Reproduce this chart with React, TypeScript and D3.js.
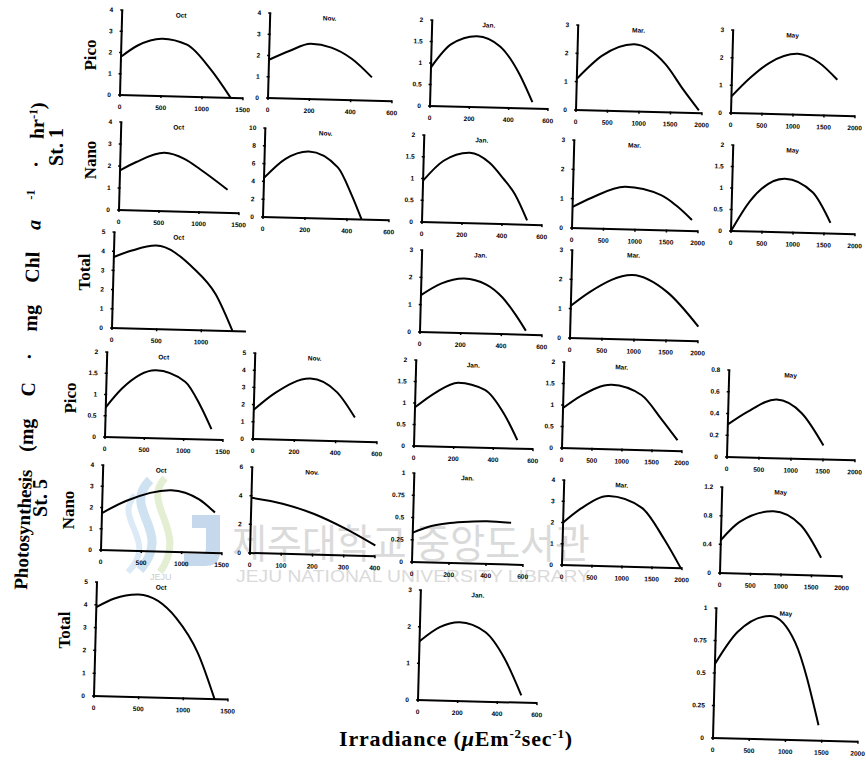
import React from "react";
import * as d3 from "d3";

// ---- data: [irradiance, photosynthesis] ----
const st1PicoOct = [[0, 1.8], [200, 2.35], [500, 2.7], [800, 2.45], [1100, 1.3], [1350, 0]];
const st1PicoNov = [[0, 1.8], [100, 2.25], [200, 2.6], [300, 2.45], [400, 1.95], [500, 1.1]];
const st1PicoJan = [[0, 0.9], [100, 1.45], [230, 1.65], [350, 1.42], [450, 0.8], [520, 0.15]];
const st1PicoMar = [[0, 1.1], [400, 1.95], [900, 2.37], [1400, 1.7], [1700, 0.8], [1950, 0.1]];
const st1PicoMay = [[0, 0.6], [300, 1.3], [600, 1.85], [1050, 2.2], [1400, 1.9], [1700, 1.3]];

const st1NanoOct = [[0, 1.8], [200, 2.2], [550, 2.65], [800, 2.4], [1000, 1.95], [1350, 1.05]];
const st1NanoNov = [[0, 4.4], [100, 6.6], [210, 7.5], [350, 5.8], [420, 2.7], [470, 0]];
const st1NanoJan = [[0, 0.95], [100, 1.42], [230, 1.62], [330, 1.4], [400, 1.05], [460, 0.7], [525, 0.1]];
const st1NanoMar = [[0, 0.72], [300, 1.05], [830, 1.45], [1400, 1.2], [1650, 0.85], [1900, 0.38]];
const st1NanoMay = [[0, 0], [300, 0.72], [850, 1.25], [1300, 0.95], [1600, 0.25]];

const st1TotalOct = [[0, 3.7], [200, 4.06], [470, 4.35], [900, 3.2], [1150, 1.9], [1350, 0]];
const st1TotalJan = [[0, 1.35], [100, 1.8], [210, 2.0], [320, 1.8], [400, 1.35], [470, 0.7], [520, 0.15]];
const st1TotalMar = [[0, 1.1], [300, 1.6], [950, 2.2], [1500, 1.65], [2000, 0.5]];

const st5PicoOct = [[0, 0.7], [200, 1.15], [625, 1.6], [1000, 1.35], [1200, 0.8], [1350, 0.25]];
const st5PicoNov = [[0, 1.7], [100, 2.7], [270, 3.6], [400, 2.85], [490, 1.4]];
const st5PicoJan = [[0, 0.9], [100, 1.25], [215, 1.5], [350, 1.35], [450, 0.8], [520, 0.2]];
const st5PicoMar = [[0, 0.93], [300, 1.23], [800, 1.5], [1300, 1.28], [1650, 0.72], [1920, 0.25]];
const st5PicoMay = [[0, 0.3], [300, 0.42], [750, 0.54], [1150, 0.42], [1500, 0.13]];

const st5NanoOct = [[0, 1.74], [300, 2.35], [850, 2.9], [1200, 2.5], [1400, 1.9]];
const st5NanoNov = [[0, 3.85], [100, 3.5], [200, 2.85], [300, 1.9], [400, 0.75]];
const st5NanoJan = [[0, 0.33], [100, 0.41], [200, 0.45], [300, 0.47], [400, 0.48], [530, 0.47]];
const st5NanoMar = [[0, 2.0], [300, 2.7], [750, 3.3], [1300, 2.8], [1700, 1.3], [1980, 0]];
const st5NanoMay = [[0, 0.46], [300, 0.72], [850, 0.88], [1300, 0.7], [1650, 0.25]];

const st5TotalOct = [[0, 3.9], [200, 4.3], [470, 4.5], [900, 3.5], [1150, 2.0], [1350, 0]];
const st5TotalJan = [[0, 1.6], [100, 2.0], [200, 2.15], [330, 1.9], [430, 1.2], [520, 0.2]];
const st5TotalMay = [[0, 0.57], [300, 0.82], [750, 0.95], [1100, 0.75], [1450, 0.12]];

// ---- tick labels ----
const xTicks400 = [0, 100, 200, 300, 400];
const xTicks600 = [0, 200, 400, 600];
const xTicks1000 = [0, 500, 1000];
const xTicks1500 = [0, 500, 1000, 1500];
const xTicks2000 = [0, 500, 1000, 1500, 2000];
const yTicks1 = [0, 0.25, 0.5, 0.75, 1];
const yTicks08 = [0, 0.2, 0.4, 0.6, 0.8];
const yTicks12 = [0, 0.4, 0.8, 1.2];
const yTicks2 = [0, 0.5, 1, 1.5, 2];
const yTicks3 = [0, 1, 2, 3];
const yTicks4 = [0, 1, 2, 3, 4];
const yTicks5 = [0, 1, 2, 3, 4, 5];
const yTicks6 = [0, 2, 4, 6];
const yTicks10 = [0, 2, 4, 6, 8, 10];

const rowLabels = ["Pico", "Nano", "Total", "Pico", "Nano", "Total"];
const stationLabels = ["St. 1", "St. 5"];

const panels = [
  { title: "Oct", data: st1PicoOct, xMax: 1500, xTicks: xTicks1500, yMax: 4, yTicks: yTicks4 },
  { title: "Nov.", data: st1PicoNov, xMax: 600, xTicks: xTicks600, yMax: 4, yTicks: yTicks4 },
  { title: "Jan.", data: st1PicoJan, xMax: 600, xTicks: xTicks600, yMax: 2, yTicks: yTicks2 },
  { title: "Mar.", data: st1PicoMar, xMax: 2000, xTicks: xTicks2000, yMax: 3, yTicks: yTicks3 },
  { title: "May", data: st1PicoMay, xMax: 2000, xTicks: xTicks2000, yMax: 3, yTicks: yTicks3 },
  { title: "Oct", data: st1NanoOct, xMax: 1500, xTicks: xTicks1500, yMax: 4, yTicks: yTicks4 },
  { title: "Nov.", data: st1NanoNov, xMax: 600, xTicks: xTicks600, yMax: 10, yTicks: yTicks10 },
  { title: "Jan.", data: st1NanoJan, xMax: 600, xTicks: xTicks600, yMax: 2, yTicks: yTicks2 },
  { title: "Mar.", data: st1NanoMar, xMax: 2000, xTicks: xTicks2000, yMax: 3, yTicks: yTicks3 },
  { title: "May", data: st1NanoMay, xMax: 2000, xTicks: xTicks2000, yMax: 2, yTicks: yTicks2 },
  { title: "Oct", data: st1TotalOct, xMax: 1500, xTicks: xTicks1000, yMax: 5, yTicks: yTicks5 },
  { title: "Jan.", data: st1TotalJan, xMax: 600, xTicks: xTicks600, yMax: 3, yTicks: yTicks3 },
  { title: "Mar.", data: st1TotalMar, xMax: 2000, xTicks: xTicks2000, yMax: 3, yTicks: yTicks3 },
  { title: "Oct", data: st5PicoOct, xMax: 1500, xTicks: xTicks1500, yMax: 2, yTicks: yTicks2 },
  { title: "Nov.", data: st5PicoNov, xMax: 600, xTicks: xTicks600, yMax: 5, yTicks: yTicks5 },
  { title: "Jan.", data: st5PicoJan, xMax: 600, xTicks: xTicks600, yMax: 2, yTicks: yTicks2 },
  { title: "Mar.", data: st5PicoMar, xMax: 2000, xTicks: xTicks2000, yMax: 2, yTicks: yTicks2 },
  { title: "May", data: st5PicoMay, xMax: 2000, xTicks: xTicks2000, yMax: 0.8, yTicks: yTicks08 },
  { title: "Oct", data: st5NanoOct, xMax: 1500, xTicks: xTicks1500, yMax: 4, yTicks: yTicks4 },
  { title: "Nov.", data: st5NanoNov, xMax: 400, xTicks: xTicks400, yMax: 6, yTicks: yTicks6 },
  { title: "Jan.", data: st5NanoJan, xMax: 600, xTicks: xTicks600, yMax: 1, yTicks: yTicks1 },
  { title: "Mar.", data: st5NanoMar, xMax: 2000, xTicks: xTicks2000, yMax: 4, yTicks: yTicks4 },
  { title: "May", data: st5NanoMay, xMax: 2000, xTicks: xTicks2000, yMax: 1.2, yTicks: yTicks12 },
  { title: "Oct", data: st5TotalOct, xMax: 1500, xTicks: xTicks1500, yMax: 5, yTicks: yTicks5 },
  { title: "Jan.", data: st5TotalJan, xMax: 600, xTicks: xTicks600, yMax: 3, yTicks: yTicks3 },
  { title: "May", data: st5TotalMay, xMax: 2000, xTicks: xTicks2000, yMax: 1, yTicks: yTicks1 },
];

// ---- layout (origin x, origin y, axis width, axis height) ----
const layout = [
  [120, 95, 123, 85], [268, 98, 124, 85], [430, 106, 118, 86], [576, 110, 126, 85], [731, 113, 124, 83],
  [119, 210, 120, 88], [263, 217, 126, 89], [422, 222, 120, 87], [572, 228, 126, 88], [731, 231, 124, 86],
  [112, 328, 134, 96], [420, 332, 122, 82], [570, 338, 128, 88],
  [105, 437, 118, 85], [253, 439, 124, 86], [414, 446, 119, 86], [562, 448, 120, 86], [727, 457, 128, 87],
  [101, 550, 121, 85], [250, 553, 125, 86], [412, 562, 111, 89], [562, 565, 120, 85], [720, 573, 122, 86],
  [94, 696, 134, 114], [418, 700, 119, 110], [713, 738, 145, 130],
];
const rowLabelPos = [[96, 55], [96, 160], [90, 272], [76, 398], [74, 510], [70, 630]];
const stationPos = [[63, 147], [47, 498]];

const tickFont = "'Liberation Sans', Arial, sans-serif";
const serif = "'Liberation Serif', 'Times New Roman', serif";

function fmt(v: number) {
  return String(v);
}

function Panel({ p, l }: { p: any; l: number[] }) {
  const [ox, oy, w, h] = l;
  const x = d3.scaleLinear().domain([0, p.xMax]).range([0, w]);
  const y = d3.scaleLinear().domain([0, p.yMax]).range([0, -h]);
  const line = d3
    .line<number[]>()
    .x((d) => x(d[0]))
    .y((d) => y(d[1]))
    .curve(d3.curveMonotoneX);
  return (
    <g transform={`translate(${ox},${oy}) rotate(1.5)`}>
      <line x1={0} y1={1} x2={0} y2={-h} stroke="#000" strokeWidth={2} />
      <line x1={-1} y1={0} x2={w} y2={0} stroke="#000" strokeWidth={2} />
      {p.yTicks.map((t: number) => (
        <g key={"y" + t}>
          <line x1={-2} x2={1} y1={y(t)} y2={y(t)} stroke="#000" strokeWidth={1.5} />
          <text
            x={-9}
            y={y(t)}
            dy="0.35em"
            textAnchor="end"
            fontSize={6.5}
            fontWeight="bold"
            fontFamily={tickFont}
          >
            {fmt(t)}
          </text>
        </g>
      ))}
      {p.xTicks.map((t: number) => (
        <g key={"x" + t}>
          <line x1={x(t)} x2={x(t)} y1={-1} y2={2} stroke="#000" strokeWidth={1.5} />
          <text
            x={x(t)}
            y={14}
            textAnchor="middle"
            fontSize={6.5}
            fontWeight="bold"
            fontFamily={tickFont}
          >
            {fmt(t)}
          </text>
        </g>
      ))}
      <path d={line(p.data) || ""} fill="none" stroke="#000" strokeWidth={2} />
      <text
        x={w * 0.48}
        y={-h + 6}
        textAnchor="middle"
        fontSize={6.5}
        fontWeight="bold"
        fontFamily={tickFont}
      >
        {p.title}
      </text>
    </g>
  );
}

function Watermark() {
  return (
    <g>
      <g opacity={0.5}>
        <path d="M150,480 C120,510 175,530 140,570" fill="none" stroke="#9fc6e6" strokeWidth={9} />
        <path d="M165,478 C140,505 190,530 160,572" fill="none" stroke="#c9dfa8" strokeWidth={7} />
        <path d="M135,495 C112,520 160,540 128,572" fill="none" stroke="#b9d6ee" strokeWidth={6} />
        <path d="M192,515 L220,515 L220,552 Q220,566 204,566 L184,566 L184,554 L200,554 Q206,554 206,548 L206,528 L192,528 Z" fill="#8fb2da" />
      </g>
      <text x={150} y={580} fontSize={9} fill="#cccccc" fontFamily={tickFont}>JEJU</text>
      <text
        x={232}
        y={558}
        fontSize={40}
        fill="#dadada"
        fontFamily="'Noto Sans CJK KR', sans-serif"
        textLength={358}
        lengthAdjust="spacingAndGlyphs"
      >
        제주대학교 중앙도서관
      </text>
      <text
        x={236}
        y={582}
        fontSize={17}
        fill="#dadada"
        fontFamily={tickFont}
        textLength={354}
        lengthAdjust="spacingAndGlyphs"
      >
        JEJU NATIONAL UNIVERSITY LIBRARY
      </text>
    </g>
  );
}

export default function App() {
  return (
    <svg
      width={866}
      height={760}
      style={{ position: "absolute", left: 0, top: 0, display: "block", background: "#fff" }}
    >
      <rect x={0} y={0} width={866} height={760} fill="#fff" />
      <Watermark />
      {panels.map((p, i) => (
        <Panel key={i} p={p} l={layout[i]} />
      ))}
      {rowLabels.map((r, i) => (
        <text
          key={"r" + i}
          transform={`translate(${rowLabelPos[i][0]},${rowLabelPos[i][1]}) rotate(-90)`}
          textAnchor="middle"
          fontSize={17}
          fontWeight="bold"
          fontFamily={serif}
        >
          {r}
        </text>
      ))}
      {stationLabels.map((s, i) => (
        <text
          key={"s" + i}
          transform={`translate(${stationPos[i][0]},${stationPos[i][1]}) rotate(-90)`}
          textAnchor="middle"
          fontSize={20}
          fontWeight="bold"
          fontFamily={serif}
        >
          {s}
        </text>
      ))}
      <text
        transform="translate(27,590) rotate(-87.6)"
        textAnchor="start"
        fontSize={19}
        fontWeight="bold"
        fontFamily={serif}
      >
        Photosynthesis
      </text>
      <text
        transform="translate(32.5,452) rotate(-88)"
        textAnchor="start"
        fontSize={20}
        fontWeight="bold"
        fontFamily={serif}
        wordSpacing={17}
      >
        (mg C · mg Chl <tspan fontStyle="italic">a</tspan>
        <tspan dy={-7} fontSize={12}> -1</tspan>
        <tspan dy={7}> · hr</tspan>
        <tspan dy={-7} fontSize={12}>-1</tspan>
        <tspan dy={7}>)</tspan>
      </text>
      <text
        x={456}
        y={746}
        textAnchor="middle"
        fontSize={22}
        fontWeight="bold"
        fontFamily={serif}
        letterSpacing={0.8}
      >
        Irradiance (<tspan fontStyle="italic">μ</tspan>Em
        <tspan dy={-8} fontSize={13}>-2</tspan>
        <tspan dy={8}>sec</tspan>
        <tspan dy={-8} fontSize={13}>-1</tspan>
        <tspan dy={8}>)</tspan>
      </text>
    </svg>
  );
}
